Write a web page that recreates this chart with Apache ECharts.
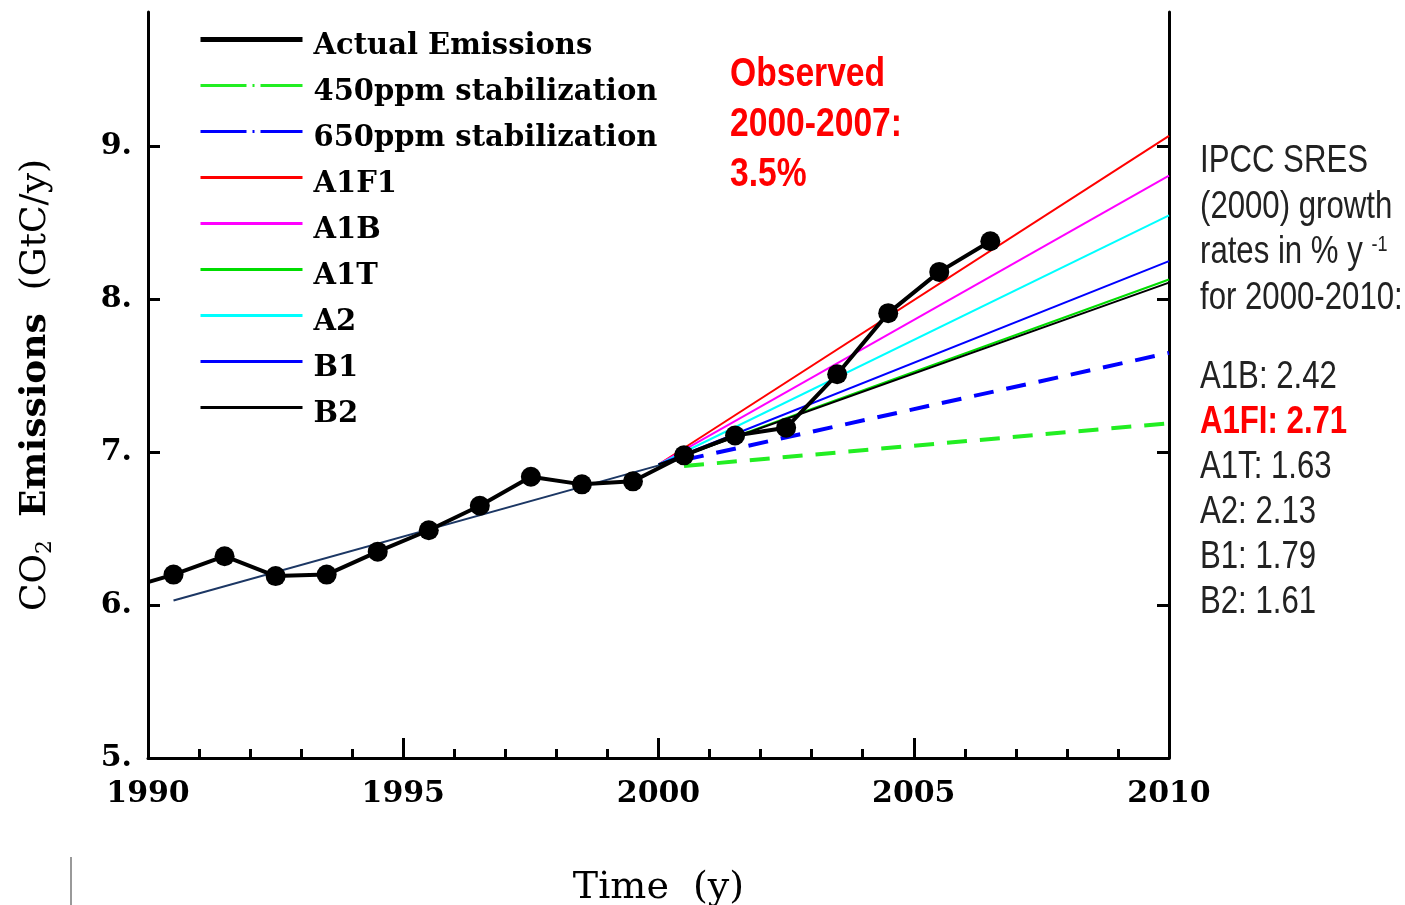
<!DOCTYPE html>
<html>
<head>
<meta charset="utf-8">
<title>CO2 Emissions</title>
<script src="https://cdn.jsdelivr.net/npm/echarts@6.0.0/dist/echarts.min.js"></script>
<style>
html, body { margin: 0; padding: 0; background: #fff; }
#main { width: 1405px; height: 905px; }
</style>
</head>
<body>
<div id="main"></div>
<script>
// observed emissions (GtC/y); first entry is only the lead-in at the axis
var actualYears = [1990, 1990.5, 1991.5, 1992.5, 1993.5, 1994.5, 1995.5, 1996.5, 1997.5, 1998.5, 1999.5, 2000.5, 2001.5, 2002.5, 2003.5, 2004.5, 2005.5, 2006.5];
var actualValues = [6.15, 6.20, 6.32, 6.19, 6.20, 6.35, 6.49, 6.65, 6.84, 6.79, 6.81, 6.98, 7.11, 7.16, 7.51, 7.91, 8.18, 8.38];

// thin trend line through the 90s
var trendYears = [1990.5, 2000.5];
var trendValues = [6.03, 6.96];

// SRES scenarios 2000 -> 2010
var scenarioNames = ['A1F1', 'A1B', 'A1T', 'A2', 'B1', 'B2'];
var scenarioColors = ['#ff0000', '#ff00ff', '#00dd00', '#00ffff', '#0000ff', '#000000'];
var scenarioYears = [2000, 2010];
var scenarioStart = [6.92, 6.92, 6.92, 6.92, 6.92, 6.92];
var scenarioEnd = [9.07, 8.81, 8.13, 8.55, 8.25, 8.11];

// stabilization paths
var stabNames = ['450ppm stabilization', '650ppm stabilization'];
var stabColors = ['#22ee22', '#0000ff'];
var stabYears = [2000.5, 2010];
var stabStart = [6.91, 6.95];
var stabEnd = [7.19, 7.65];

var yTicks = [5, 6, 7, 8, 9];
var yTicksRight = [6, 7, 8, 9];

var chart = echarts.init(document.getElementById('main'));

function pairs(xs, ys) {
	return xs.map(function (x, i) { return [x, ys[i]]; });
}

var series = [];
series.push({
	name: 'trend',
	type: 'line',
	symbol: 'none',
	data: pairs(trendYears, trendValues),
	lineStyle: { color: '#1c3764', width: 2 },
	itemStyle: { color: '#1c3764' },
	z: 2
});
stabNames.forEach(function (n, i) {
	series.push({
		name: n,
		type: 'line',
		symbol: 'none',
		data: pairs(stabYears, [stabStart[i], stabEnd[i]]),
		lineStyle: { color: stabColors[i], width: 4, type: [20, 13] },
		itemStyle: { color: stabColors[i] },
		z: 3
	});
});
scenarioNames.forEach(function (n, i) {
	series.push({
		name: n,
		type: 'line',
		symbol: 'none',
		data: pairs(scenarioYears, [scenarioStart[i], scenarioEnd[i]]),
		lineStyle: { color: scenarioColors[i], width: 2 },
		itemStyle: { color: scenarioColors[i] },
		z: 3
	});
});
series.push({
	name: 'Actual Emissions',
	type: 'line',
	symbol: 'none',
	data: pairs(actualYears, actualValues),
	lineStyle: { color: '#000', width: 4 },
	itemStyle: { color: '#000' },
	z: 5
});
series.push({
	name: 'actual points',
	type: 'scatter',
	symbolSize: 20,
	data: pairs(actualYears.slice(1), actualValues.slice(1)),
	itemStyle: { color: '#000', opacity: 1 },
	z: 6
});

var legendData = [
	{ name: 'Actual Emissions', lineStyle: { width: 5 } },
	{ name: '450ppm stabilization', lineStyle: { width: 3, type: [46, 6, 2, 6] } },
	{ name: '650ppm stabilization', lineStyle: { width: 3, type: [46, 6, 2, 6] } },
	{ name: 'A1F1', lineStyle: { width: 3 } },
	{ name: 'A1B', lineStyle: { width: 3 } },
	{ name: 'A1T', lineStyle: { width: 3 } },
	{ name: 'A2', lineStyle: { width: 3 } },
	{ name: 'B1', lineStyle: { width: 3 } },
	{ name: 'B2', lineStyle: { width: 3 } }
];

var serif = '"DejaVu Serif", serif';

var option = {
	animation: false,
	backgroundColor: '#fff',
	grid: { left: 148, right: 236, top: 12, bottom: 147, outerBoundsMode: 'none' },
	legend: {
		orient: 'vertical',
		left: 198,
		top: 18,
		padding: 0,
		itemWidth: 102,
		itemHeight: 14,
		itemGap: 3,
		selectedMode: false,
		itemStyle: { opacity: 0 },
		formatter: '{t|{name}}',
		textStyle: {
			fontFamily: serif,
			fontWeight: 'bold',
			fontSize: 29,
			color: '#000',
			rich: {
				t: {
					fontFamily: serif,
					fontWeight: 'bold',
					fontSize: 29,
					color: '#000',
					lineHeight: 29,
					padding: [14, 0, 0, 6]
				}
			}
		},
		data: legendData
	},
	xAxis: {
		type: 'value',
		min: 1990,
		max: 2010,
		interval: 5,
		name: 'Time  (y)',
		nameLocation: 'middle',
		nameGap: 111,
		nameTextStyle: { fontFamily: serif, fontSize: 38, color: '#000' },
		axisLine: { show: true, lineStyle: { color: '#000', width: 3 } },
		axisTick: { show: true, inside: true, length: 20, lineStyle: { color: '#000', width: 3 } },
		minorTick: { show: true, splitNumber: 5, length: 9, lineStyle: { color: '#000', width: 3 } },
		axisLabel: {
			margin: 21,
			fontFamily: serif,
			fontWeight: 'bold',
			fontSize: 30,
			color: '#000',
			formatter: function (v) { return String(v); }
		},
		splitLine: { show: false }
	},
	yAxis: [{
		type: 'value',
		min: 5,
		max: 9.88,
		interval: 1,
		position: 'left',
		name: '{r|CO}{sub|2}{r|  }{b|Emissions}{r|  (GtC/y)}',
		nameLocation: 'middle',
		nameGap: 92,
		nameTextStyle: {
			rich: {
				r: { fontFamily: serif, fontSize: 36, color: '#000', lineHeight: 40 },
				b: { fontFamily: serif, fontSize: 36, fontWeight: 'bold', color: '#000', lineHeight: 40 },
				sub: { fontFamily: serif, fontSize: 22, color: '#000', lineHeight: 40, verticalAlign: 'bottom' }
			}
		},
		axisLine: { show: true, lineStyle: { color: '#000', width: 3 } },
		axisTick: { show: true, inside: true, length: 12, customValues: yTicks, lineStyle: { color: '#000', width: 3 } },
		axisLabel: {
			margin: 16,
			customValues: yTicks,
			fontFamily: serif,
			fontWeight: 'bold',
			fontSize: 30,
			color: '#000',
			formatter: function (v) { return v + '.'; }
		},
		splitLine: { show: false }
	}, {
		type: 'value',
		min: 5,
		max: 9.88,
		interval: 1,
		position: 'right',
		axisLine: { show: true, lineStyle: { color: '#000', width: 3 } },
		axisTick: { show: true, inside: true, length: 12, customValues: yTicksRight, lineStyle: { color: '#000', width: 3 } },
		axisLabel: { show: false },
		splitLine: { show: false }
	}],
	graphic: [
		{
			type: 'text', x: 730, y: 50, scaleX: 0.82,
			style: {
				text: 'Observed\n2000-2007:\n3.5%',
				fontFamily: '"Liberation Sans", Arial, sans-serif',
				fontWeight: 'bold',
				fontSize: 41,
				lineHeight: 50,
				fill: '#ff0000',
				verticalAlign: 'top'
			}
		},
		{
			type: 'text', x: 1200, y: 139, scaleX: 0.82,
			style: {
				text: 'IPCC SRES\n(2000) growth\nrates in % y {sup|-1}\nfor 2000-2010:',
				fontFamily: '"Liberation Sans", Arial, sans-serif',
				fontSize: 38,
				lineHeight: 45.5,
				fill: '#222',
				verticalAlign: 'top',
				rich: {
					sup: { fontSize: 22, fill: '#222', verticalAlign: 'top', lineHeight: 45.5, padding: [4, 0, 0, 0] }
				}
			}
		},
		{
			type: 'text', x: 1200, y: 355, scaleX: 0.82,
			style: {
				text: 'A1B: 2.42\n{red|A1FI: 2.71}\nA1T: 1.63\nA2: 2.13\nB1: 1.79\nB2: 1.61',
				fontFamily: '"Liberation Sans", Arial, sans-serif',
				fontSize: 38,
				lineHeight: 45,
				fill: '#222',
				verticalAlign: 'top',
				rich: {
					red: { fontSize: 38, fontWeight: 'bold', fill: '#ff0000', lineHeight: 45 }
				}
			}
		},
		{
			type: 'line',
			shape: { x1: 71, y1: 857, x2: 71, y2: 905 },
			style: { stroke: '#999', lineWidth: 2 }
		}
	],
	series: series
};

chart.setOption(option);
</script>
</body>
</html>
